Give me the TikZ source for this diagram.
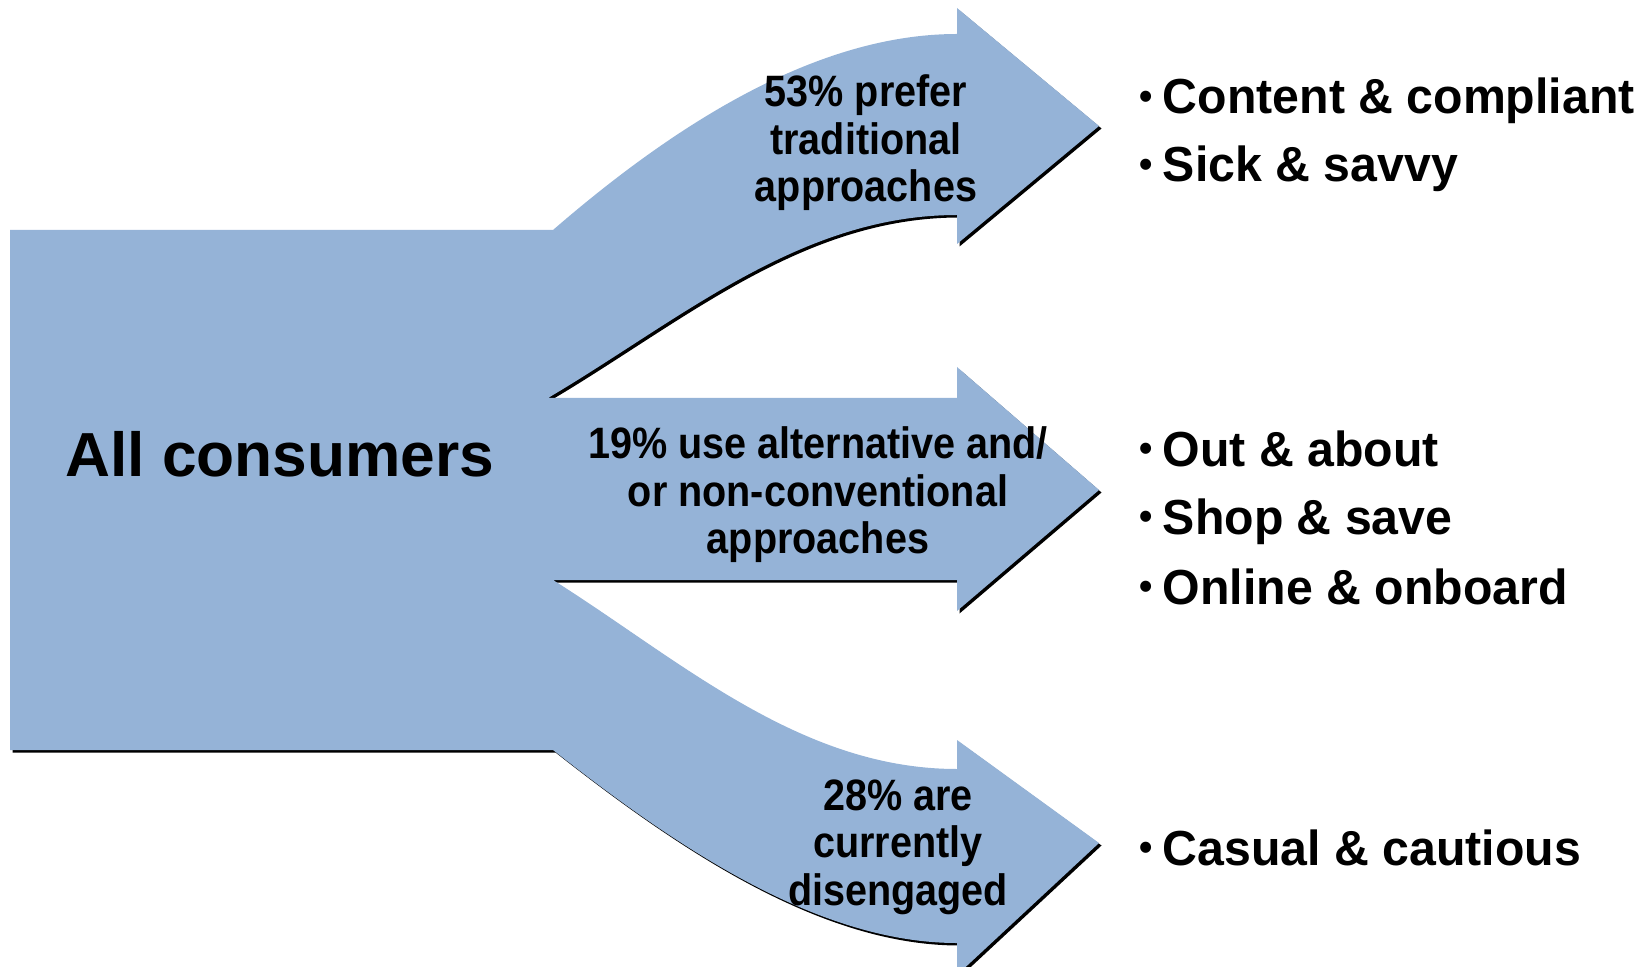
\documentclass[tikz,border=0pt]{standalone}
\usepackage{fontspec}
\setmainfont{Liberation Sans}
\newfontfamily\narrowsans[FakeStretch=0.9]{Liberation Sans}
\newfontfamily\itemsans[FakeStretch=0.98]{Liberation Sans}
\usepackage{xcolor}
\usepackage{tikz}
\definecolor{flowblue}{HTML}{95B3D7}
\tikzset{
  flow/.style={fill=flowblue, draw=none},
  shade/.style={fill=black, draw=none},
  big/.style={font=\bfseries\fontsize{17.7}{21}\selectfont},
  lab/.style={font=\narrowsans\bfseries\fontsize{12.5}{13.5}\selectfont, align=center, inner sep=0pt},
  item/.style={anchor=base west, inner sep=0pt, font=\itemsans\bfseries\fontsize{14}{17}\selectfont},
}
\newcommand{\itembul}{\makebox[6.6pt][l]{\raisebox{0.1em}{\fontsize{11}{11}\selectfont\textbullet}}}

\begin{document}
\begin{tikzpicture}[x=0.01cm, y=-0.01cm]
  \useasboundingbox (0,0) rectangle (1652,967);

  % outline of the block and its three arrows
  \def\flowpath{
    (10,230) -- (553,230)
    .. controls (680,120) and (820,34) .. (957,34)
    -- (957,8) -- (1099,126) -- (957,244) -- (957,215)
    .. controls (800,215) and (680,320) .. (548,398)
    -- (957,398) -- (957,367) -- (1099,490) -- (957,611) -- (957,580)
    -- (553,580)
    .. controls (680,660) and (800,769) .. (957,769)
    -- (957,740) -- (1099,843) -- (957,975) -- (957,943)
    .. controls (820,943) and (680,850) .. (553,750)
    -- (10,750) -- cycle}

  \fill[shade, shift={(2.5,2.5)}] \flowpath;
  \fill[flow] \flowpath;

  \node[big, anchor=base] (all) at (280,476) {All consumers};

  \node[lab] (trad) at (866,143) {53\% prefer\\traditional\\approaches};
  \node[lab] (alt) at (818,495) {19\% use alternative and/\\or non-conventional\\approaches};
  \node[lab] (dis) at (898,847) {28\% are\\currently\\disengaged};

  \node[item] (content) at (1139,114) {\itembul Content \& compliant};
  \node[item] (sick) at (1139,182) {\itembul Sick \& savvy};
  \node[item] (out) at (1139,466) {\itembul Out \& about};
  \node[item] (shop) at (1139,534) {\itembul Shop \& save};
  \node[item] (online) at (1139,604) {\itembul Online \& onboard};
  \node[item] (casual) at (1139,865) {\itembul Casual \& cautious};
\end{tikzpicture}
\end{document}
